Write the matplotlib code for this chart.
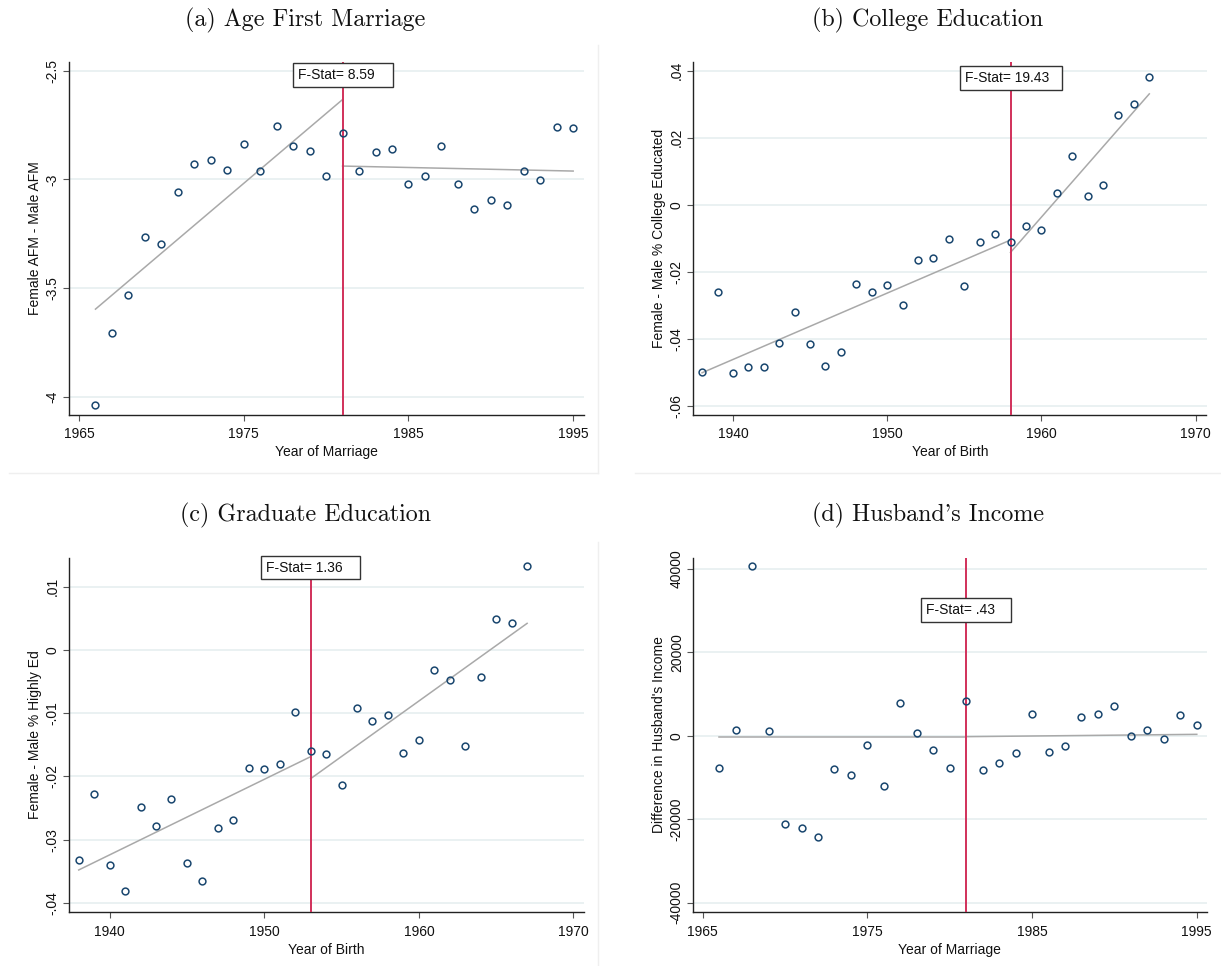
"""Four-panel discontinuity plots (Stata-style): binned gaps by year with split linear fits."""
import matplotlib
matplotlib.use("Agg")
import matplotlib.pyplot as plt
from matplotlib.lines import Line2D
from matplotlib.patches import Rectangle

# ---- (a) Age First Marriage ----
years_a = list(range(1966, 1996))
afm_gap = [-4.038, -3.707, -3.531, -3.264, -3.299, -3.058, -2.928, -2.913, -2.955, -2.839,
           -2.960, -2.753, -2.848, -2.870, -2.986, -2.788, -2.960, -2.874, -2.860, -3.023,
           -2.985, -2.848, -3.020, -3.137, -3.097, -3.118, -2.960, -3.003, -2.758, -2.765]
fit_a_pre_x, fit_a_pre_y = [1966, 1981], [-3.597, -2.633]
fit_a_post_x, fit_a_post_y = [1981, 1995], [-2.939, -2.962]
cut_a = 1981
fstat_a = "F-Stat= 8.59"
yticks_a = [-2.5, -3, -3.5, -4]
yticklabels_a = ["-2.5", "-3", "-3.5", "-4"]
xticks_a = [1965, 1975, 1985, 1995]

# ---- (b) College Education ----
years_b = list(range(1938, 1968))
college_gap = [-0.0499, -0.0259, -0.0503, -0.0484, -0.0484, -0.0411, -0.0319, -0.0414, -0.0482, -0.0439,
               -0.0236, -0.0259, -0.0238, -0.0300, -0.0166, -0.0160, -0.0101, -0.0242, -0.0110, -0.0088,
               -0.0110, -0.0063, -0.0074, 0.0035, 0.0146, 0.0026, 0.0060, 0.0269, 0.0302, 0.0380]
fit_b_pre_x, fit_b_pre_y = [1938, 1958], [-0.0501, -0.0105]
fit_b_post_x, fit_b_post_y = [1958, 1967], [-0.0142, 0.0331]
cut_b = 1958
fstat_b = "F-Stat= 19.43"
yticks_b = [0.04, 0.02, 0, -0.02, -0.04, -0.06]
yticklabels_b = [".04", ".02", "0", "-.02", "-.04", "-.06"]
xticks_b = [1940, 1950, 1960, 1970]

# ---- (c) Graduate Education ----
years_c = list(range(1938, 1968))
grad_gap = [-0.03323, -0.02284, -0.03397, -0.03808, -0.02489, -0.02785, -0.02358, -0.03365, -0.03660, -0.02816,
            -0.02685, -0.01867, -0.01883, -0.01809, -0.00981, -0.01603, -0.01646, -0.02136, -0.00923, -0.01129,
            -0.01023, -0.01630, -0.01424, -0.00311, -0.00475, -0.01514, -0.00432, 0.00485, 0.00427, 0.01329]
fit_c_pre_x, fit_c_pre_y = [1938, 1953], [-0.03481, -0.01688]
fit_c_post_x, fit_c_post_y = [1953, 1967], [-0.02036, 0.00422]
cut_c = 1953
fstat_c = "F-Stat= 1.36"
yticks_c = [0.01, 0, -0.01, -0.02, -0.03, -0.04]
yticklabels_c = [".01", "0", "-.01", "-.02", "-.03", "-.04"]
xticks_c = [1940, 1950, 1960, 1970]

# ---- (d) Husband's Income ----
years_d = list(range(1966, 1996))
income_gap = [-7737, 1436, 40678, 1196, -21216, -22093, -24167, -7976, -9332, -2154,
              -11964, 7737, 558, -3509, -7737, 8375, -8215, -6461, -4227, 5184,
              -3988, -2393, 4546, 5184, 7019, 0, 1436, -798, 5025, 2552]
fit_d_pre_x, fit_d_pre_y = [1966, 1981], [-319, -319]
fit_d_post_x, fit_d_post_y = [1981, 1995], [-239, 319]
cut_d = 1981
fstat_d = "F-Stat= .43"
yticks_d = [40000, 20000, 0, -20000, -40000]
yticklabels_d = ["40000", "20000", "0", "-20000", "-40000"]
xticks_d = [1965, 1975, 1985, 1995]

NAVY = "#1a476f"
RED = "#d1305a"
FIT = "#a9a9a9"
GRID = "#e6eff0"
W, H = 1221, 966


def panel(ax, x, y, pre, post, cut, ftxt, box, yt, ytl, xt, xlim, ylim, xlabel, ylabel):
    ax.set_xlim(*xlim)
    ax.set_ylim(*ylim)
    for v in yt:
        ax.axhline(v, color=GRID, lw=1.2, zorder=0)
    ax.plot(*pre, color=FIT, lw=1.1, zorder=2)
    ax.plot(*post, color=FIT, lw=1.1, zorder=2)
    ax.axvline(cut, color=RED, lw=1.4, zorder=3)
    ax.plot(x, y, "o", ms=4.9, mfc="none", mec=NAVY, mew=1.1, zorder=4, clip_on=False)
    x0, x1, y0, y1, tx = box
    ax.add_patch(Rectangle((x0, y0), x1 - x0, y1 - y0, fc="white", ec="#333333",
                           lw=1.0, zorder=5, clip_on=False))
    ax.text(tx, (y0 + y1) / 2, ftxt, fontsize=10, va="center", ha="left",
            color="#111111", zorder=6, clip_on=False)
    ax.set_yticks(yt)
    ax.set_yticklabels(ytl)
    ax.set_xticks(xt)
    ax.set_xticklabels([str(v) for v in xt])
    ax.tick_params(axis="y", labelrotation=90, length=4.3, width=0.8, color="#555555",
                   pad=2.5, labelsize=10, labelcolor="#111111")
    ax.tick_params(axis="x", length=4.3, width=0.8, color="#555555", pad=4.5,
                   labelsize=10, labelcolor="#111111")
    for lbl in ax.get_yticklabels():
        lbl.set_va("center")
    for s in ("top", "right"):
        ax.spines[s].set_visible(False)
    for s in ("left", "bottom"):
        ax.spines[s].set_color("#222222")
        ax.spines[s].set_linewidth(1.0)
    ax.set_xlabel(xlabel, fontsize=10, labelpad=3, color="#111111")
    ax.set_ylabel(ylabel, fontsize=10, labelpad=2.5, color="#111111")


def main():
    plt.rcParams["font.family"] = ["Liberation Sans", "DejaVu Sans"]
    fig = plt.figure(figsize=(W / 100, H / 100), dpi=100)

    def rect(l, r, t, b):
        return [l / W, 1 - b / H, (r - l) / W, (b - t) / H]

    ax_a = fig.add_axes(rect(69.3, 583.7, 61.7, 415.0))
    ax_b = fig.add_axes(rect(693.3, 1206.5, 61.7, 415.0))
    ax_c = fig.add_axes(rect(69.3, 583.7, 557.7, 912.3))
    ax_d = fig.add_axes(rect(693.3, 1206.5, 557.7, 912.3))

    panel(ax_a, years_a, afm_gap, (fit_a_pre_x, fit_a_pre_y), (fit_a_post_x, fit_a_post_y),
          cut_a, fstat_a, (1978.0, 1984.07, -2.575, -2.465, 1978.29),
          yticks_a, yticklabels_a, xticks_a, (1964.41, 1995.64), (-4.084, -2.459),
          "Year of Marriage", "Female AFM - Male AFM")
    panel(ax_b, years_b, college_gap, (fit_b_pre_x, fit_b_pre_y), (fit_b_post_x, fit_b_post_y),
          cut_b, fstat_b, (1954.71, 1961.37, 0.0344, 0.0414, 1955.04),
          yticks_b, yticklabels_b, xticks_b, (1937.43, 1970.71), (-0.0627, 0.0427),
          "Year of Birth", "Female - Male % College Educated")
    panel(ax_c, years_c, grad_gap, (fit_c_pre_x, fit_c_pre_y), (fit_c_post_x, fit_c_post_y),
          cut_c, fstat_c, (1949.82, 1956.18, 0.01123, 0.01487, 1950.12),
          yticks_c, yticklabels_c, xticks_c, (1937.39, 1970.66), (-0.04151, 0.01461),
          "Year of Birth", "Female - Male % Highly Ed")
    panel(ax_d, years_d, income_gap, (fit_d_pre_x, fit_d_pre_y), (fit_d_post_x, fit_d_post_y),
          cut_d, fstat_d, (1978.23, 1983.73, 27118, 32861, 1978.56),
          yticks_d, yticklabels_d, xticks_d, (1964.43, 1995.59), (-42273, 42592),
          "Year of Marriage", "Difference in Husband's Income")

    titles = [("(a) Age First Marriage", 305, 20), ("(b) College Education", 928, 20),
              ("(c) Graduate Education", 305, 515), ("(d) Husband's Income", 928.5, 515)]
    for txt, x, y in titles:
        fig.text(x / W, 1 - y / H, txt, fontsize=17.3, family=["cmr10", "DejaVu Serif"],
                 ha="center", va="center", color="#111111")

    # faint sub-figure edges
    edge = "#efefef"
    for (x0, y0, x1, y1) in [(9, 473, 598, 473), (598, 45, 598, 473),
                             (635, 473, 1221, 473), (598, 542, 598, 966)]:
        fig.add_artist(Line2D([x0 / W, x1 / W], [1 - y0 / H, 1 - y1 / H],
                              transform=fig.transFigure, color=edge, lw=1.0))

    fig.savefig("out.png", dpi=100)


if __name__ == "__main__":
    main()
